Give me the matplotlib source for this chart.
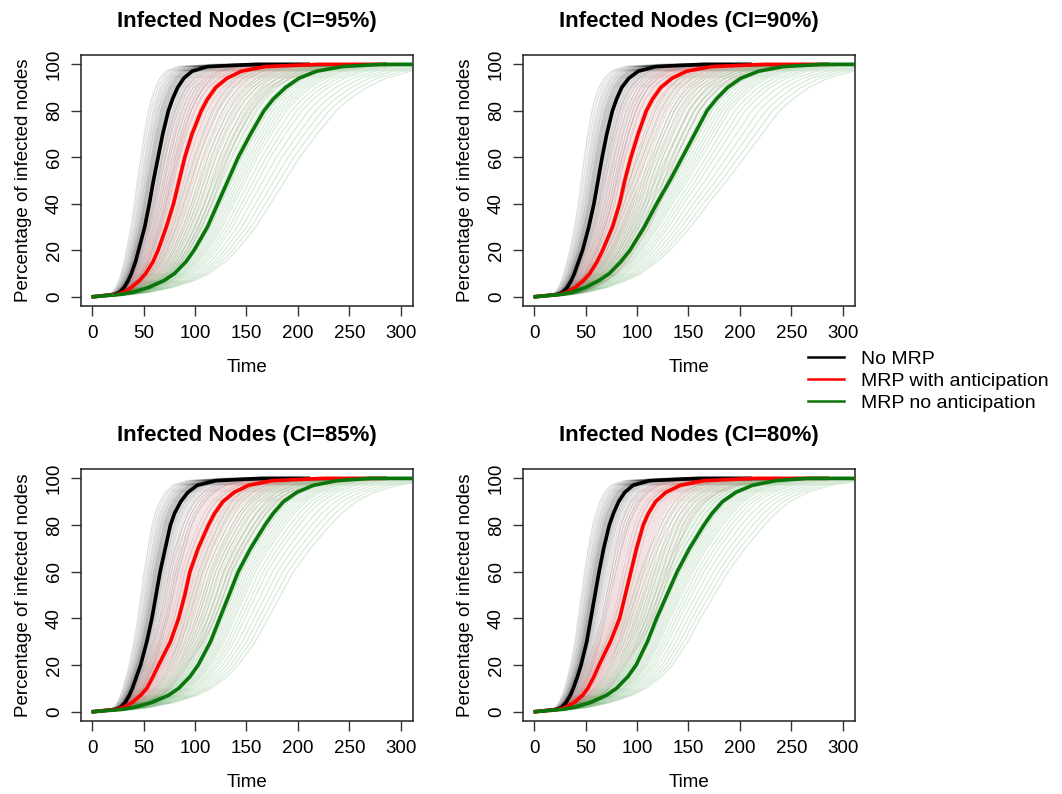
import matplotlib
matplotlib.use("Agg")
import matplotlib.pyplot as plt
import numpy as np

plt.rcParams['font.family'] = ['Liberation Sans', 'DejaVu Sans']

pct = [0, 1, 2, 4, 7, 10, 15, 20, 30, 40, 50, 60, 70, 80, 85, 90, 94, 97, 99, 100, 100]

ci_labels = ['95%', '90%', '85%', '80%']

# time at which each mean curve reaches the levels in pct
no_mrp = [
    [1, 22, 27, 31, 35, 38, 42, 45, 51, 55.5, 59.5, 64, 68.5, 74, 78, 83, 89, 97, 112, 160, 210],
    [1, 23, 28, 32, 36, 39, 43, 47, 53, 58, 62, 66, 70.5, 76, 80, 85, 92, 101, 118, 165, 210],
    [1, 23, 28, 32, 36, 39, 43, 47, 53, 58, 62, 66, 71, 76, 80, 86, 93, 102, 120, 165, 210],
    [1, 22, 27, 31, 35, 38, 42, 45.5, 51, 55, 59, 63, 67.5, 73, 77, 82, 88, 96, 112, 160, 210],
]
mrp_anticip = [
    [1, 24, 31, 38, 46, 52, 59, 64, 72, 79, 84.5, 90, 97, 106, 112, 120, 131, 145, 168, 220, 285],
    [1, 25, 32, 40, 48, 54, 61, 66.5, 76, 83, 88, 94, 101, 109, 115, 123, 134, 148, 172, 225, 285],
    [1, 24, 31, 39, 47, 53, 59, 64.5, 76, 84, 90, 95, 103, 113, 119, 127, 138, 152, 175, 225, 285],
    [1, 24, 31, 39, 47, 52, 58, 63, 74, 83, 88.5, 94, 99.5, 106, 111, 118, 128, 142, 165, 215, 285],
]
mrp_no_anticip = [
    [1, 28, 40, 55, 70, 80, 91, 99, 112, 122, 132, 142, 154, 167, 176, 188, 201, 218, 243, 280, 310],
    [1, 27, 37, 50, 63, 73, 84, 93, 107, 119, 132, 144, 156, 168, 177, 188, 201, 218, 242, 280, 310],
    [1, 30, 42, 58, 74, 84, 95, 103, 115, 124, 133, 142, 154, 168, 176, 186, 199, 215, 238, 270, 310],
    [1, 28, 40, 55, 70, 80, 91, 99, 110, 119, 129, 139, 151, 165, 173, 183, 196, 212, 235, 265, 310],
]

# individual runs: time stretch of each run relative to the mean curve
runs_black = [0.74, 0.77, 0.8, 0.82, 0.84, 0.86, 0.87, 0.89, 0.9, 0.91, 0.92, 0.93, 0.94, 0.95,
              0.96, 0.97, 0.98, 0.99, 1.0, 1.01, 1.02, 1.03, 1.05, 1.06, 1.08, 1.1, 1.12, 1.15,
              1.18, 1.22, 1.26, 1.3]
runs_red = [0.76, 0.79, 0.82, 0.84, 0.86, 0.88, 0.9, 0.91, 0.93, 0.94, 0.95, 0.97, 0.98, 0.99,
            1.0, 1.02, 1.03, 1.05, 1.06, 1.08, 1.1, 1.12, 1.14, 1.16, 1.19, 1.22, 1.25, 1.29,
            1.33, 1.38, 1.43, 1.47]
runs_green = [0.7, 0.73, 0.76, 0.79, 0.81, 0.83, 0.85, 0.87, 0.89, 0.9, 0.92, 0.93, 0.95, 0.96,
              0.98, 0.99, 1.0, 1.02, 1.03, 1.05, 1.07, 1.09, 1.11, 1.13, 1.16, 1.19, 1.22, 1.26,
              1.3, 1.34, 1.38, 1.42]
run_spread = [1.0, 1.0, 0.9, 0.85]

legend_labels = ['No MRP', 'MRP with anticipation', 'MRP no anticipation']
colors = ['black', '#ff0000', '#0a750a']
run_colors = ['#101010', '#a01c1c', '#23882a']
run_alpha = [0.13, 0.15, 0.16]

fig = plt.figure(figsize=(10.62, 7.94), dpi=100)
W, H = 1062, 794
boxes = [(81, 55, 413, 306), (523, 55, 855, 306), (81, 469, 413, 721), (523, 469, 855, 721)]

for i, (x0, y0, x1, y1) in enumerate(boxes):
    ax = fig.add_axes([x0 / W, 1 - y1 / H, (x1 - x0) / W, (y1 - y0) / H])
    means = [no_mrp[i], mrp_anticip[i], mrp_no_anticip[i]]
    run_sets = [runs_black, runs_red, runs_green]
    for g in range(3):
        t = np.array(means[g], dtype=float)
        for f in run_sets[g]:
            k = 1 + run_spread[i] * (f - 1)
            tr = np.append(t[:-1] * k, 310)
            ax.plot(tr, pct, color=run_colors[g], alpha=run_alpha[g], lw=1.0, zorder=1)
    for g in range(3):
        ax.plot(means[g], pct, color=colors[g], lw=2.6, zorder=3)

    ax.set_xlim(-11, 312)
    ax.set_ylim(-4, 104)
    ax.set_xticks([0, 50, 100, 150, 200, 250, 300])
    ax.set_yticks([0, 20, 40, 60, 80, 100])
    ax.set_yticklabels(['0', '20', '40', '60', '80', '100'], rotation=90, va='center')
    ax.tick_params(labelsize=13.5, length=7, width=1, color='#333333')
    ax.tick_params(axis='x', pad=7)
    ax.tick_params(axis='y', pad=6)
    for s in ax.spines.values():
        s.set_linewidth(1.1)
        s.set_color('#222222')
    ax.set_xlabel('Time', fontsize=13.5, labelpad=12)
    ax.set_ylabel('Percentage of infected nodes', fontsize=13.5, labelpad=10)
    ax.set_title('Infected Nodes (CI=%s)' % ci_labels[i], fontsize=16, fontweight='bold', pad=20)

handles = [plt.Line2D([], [], color=c, lw=1.8) for c in colors]
fig.legend(handles, legend_labels, loc='upper left', bbox_to_anchor=(790 / W, 1 - 333 / H),
           frameon=False, fontsize=14, handlelength=1.9, handletextpad=0.85, labelspacing=0.22)

fig.savefig('out.png', dpi=100)
